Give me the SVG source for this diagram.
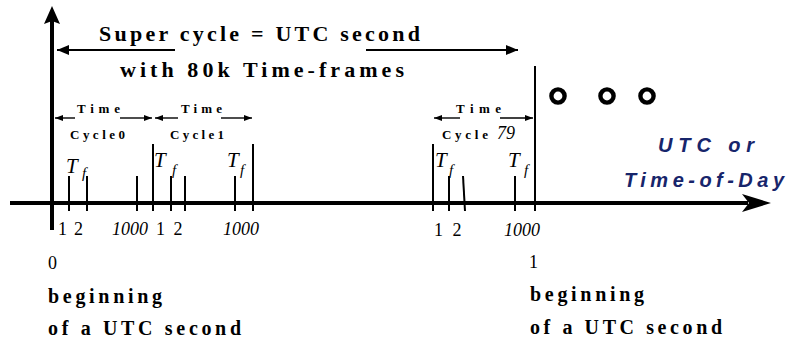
<svg xmlns="http://www.w3.org/2000/svg" width="786" height="342" viewBox="0 0 786 342">
<style>
  .axis { stroke: #000; stroke-width: 4; fill: none; }
  .tick { stroke: #000; stroke-width: 2; fill: none; }
  .arr  { stroke: #000; stroke-width: 2; fill: none; }
  .sarr { stroke: #000; stroke-width: 1.4; fill: none; }
  .head { fill: #000; stroke: none; }
  .title { font-family: "Liberation Serif", "Times New Roman", serif; font-weight: bold; font-size: 22px; fill: #000; }
  .small { font-family: "Liberation Serif", "Times New Roman", serif; font-weight: bold; font-size: 13px; fill: #000; }
  .num  { font-family: "Liberation Serif", "Times New Roman", serif; font-size: 18px; fill: #000; }
  .inum { font-family: "Liberation Serif", "Times New Roman", serif; font-style: italic; font-size: 18px; fill: #000; }
  .T    { font-family: "Liberation Serif", "Times New Roman", serif; font-style: italic; font-size: 21px; fill: #000; }
  .f    { font-family: "Liberation Serif", "Times New Roman", serif; font-style: italic; font-size: 15px; fill: #000; }
  .lbl  { font-family: "Liberation Serif", "Times New Roman", serif; font-weight: bold; font-size: 20px; fill: #000; }
  .utc  { font-family: "Liberation Sans", Arial, sans-serif; font-weight: bold; font-style: italic; font-size: 20px; fill: #17256b; }
  .ring { fill: none; stroke: #000; stroke-width: 4.4; }
</style>
<defs>
  <marker id="sm" viewBox="0 0 8 6" refX="8" refY="3" markerWidth="8" markerHeight="6" markerUnits="userSpaceOnUse" orient="auto">
    <path d="M0,0 L8,3 L0,6 Z" fill="#000"/>
  </marker>
  <marker id="md" viewBox="0 0 12 10" refX="12" refY="5" markerWidth="12" markerHeight="10" markerUnits="userSpaceOnUse" orient="auto">
    <path d="M0,0 L12,5 L0,10 Z" fill="#000"/>
  </marker>
</defs>

<g id="axes">
  <line class="axis" x1="52" y1="20" x2="52" y2="230"/>
  <path class="head" d="M52,6 L60,24 L52,21 L44,24 Z"/>
  <line class="axis" x1="10" y1="203" x2="748" y2="203"/>
  <path class="head" d="M771,203 L742,194 L749,203 L742,212 Z"/>
</g>

<g id="ticks">
  <line class="tick" x1="69" y1="176" x2="69" y2="211"/>
  <line class="tick" x1="87" y1="176" x2="87" y2="211"/>
  <line class="tick" x1="137" y1="176" x2="137" y2="211"/>
  <line class="tick" x1="153" y1="144" x2="153" y2="211"/>
  <line class="tick" x1="171" y1="176" x2="171" y2="211"/>
  <line class="tick" x1="185" y1="176" x2="185" y2="211"/>
  <line class="tick" x1="235" y1="176" x2="235" y2="211"/>
  <line class="tick" x1="253" y1="144" x2="253" y2="211"/>
  <line class="tick" x1="433" y1="144" x2="433" y2="211"/>
  <line class="tick" x1="449" y1="176" x2="449" y2="211"/>
  <line class="tick" x1="463" y1="176" x2="465" y2="211"/>
  <line class="tick" x1="515" y1="176" x2="515" y2="211"/>
  <line class="tick" x1="535" y1="66" x2="535" y2="211"/>
</g>

<g id="connectors">
  <line class="arr" x1="175" y1="50" x2="57" y2="50" marker-end="url(#md)"/>
  <line class="arr" x1="366" y1="50" x2="518" y2="50" marker-end="url(#md)"/>
  <line class="sarr" x1="75" y1="118" x2="55" y2="118" marker-end="url(#sm)"/>
  <line class="sarr" x1="120" y1="118" x2="152" y2="118" marker-end="url(#sm)"/>
  <line class="sarr" x1="178" y1="118" x2="155" y2="118" marker-end="url(#sm)"/>
  <line class="sarr" x1="221" y1="118" x2="252" y2="118" marker-end="url(#sm)"/>
  <line class="sarr" x1="460" y1="118" x2="434" y2="118" marker-end="url(#sm)"/>
  <line class="sarr" x1="500" y1="118" x2="533" y2="118" marker-end="url(#sm)"/>
</g>

<g id="title">
  <text class="title" x="99" y="41" textLength="321" lengthAdjust="spacing">Super cycle = UTC second</text>
  <text class="title" x="120" y="77" textLength="284" lengthAdjust="spacing">with 80k Time-frames</text>
</g>

<g id="cycle0">
  <text class="small" x="77" y="113" textLength="43" lengthAdjust="spacing">Time</text>
  <text class="small" x="70" y="139" textLength="55" lengthAdjust="spacing">Cycle0</text>
  <text class="T" x="66" y="173">T</text>
  <text class="f" x="82" y="178">f</text>
  <text class="num" x="58" y="235" letter-spacing="1.3">1 2</text>
  <text class="inum" x="112" y="235">1000</text>
</g>

<g id="cycle1">
  <text class="small" x="181" y="113" textLength="41" lengthAdjust="spacing">Time</text>
  <text class="small" x="170" y="139" textLength="54" lengthAdjust="spacing">Cycle1</text>
  <text class="T" x="154" y="167">T</text>
  <text class="f" x="172" y="175">f</text>
  <text class="T" x="227" y="167">T</text>
  <text class="f" x="240" y="175">f</text>
  <text class="num" x="156" y="235" letter-spacing="2">1 2</text>
  <text class="inum" x="223" y="235">1000</text>
</g>

<g id="cycle79">
  <text class="small" x="456" y="113" textLength="45" lengthAdjust="spacing">Time</text>
  <text class="small" x="442" y="139" textLength="46" lengthAdjust="spacing">Cycle</text>
  <text class="inum" x="497" y="139" font-size="16">79</text>
  <text class="T" x="435" y="167">T</text>
  <text class="f" x="449" y="175">f</text>
  <text class="T" x="508" y="167">T</text>
  <text class="f" x="524" y="175">f</text>
  <text class="num" x="434" y="236" letter-spacing="2.5">1 2</text>
  <text class="inum" x="504" y="236">1000</text>
</g>

<g id="ellipsis">
  <circle class="ring" cx="558" cy="96" r="6.6"/>
  <circle class="ring" cx="607" cy="96" r="6.6"/>
  <circle class="ring" cx="647" cy="96" r="6.6"/>
</g>

<g id="axis-label">
  <text class="utc" x="658" y="152" textLength="96" lengthAdjust="spacing">UTC or</text>
  <text class="utc" x="624" y="187" textLength="160" lengthAdjust="spacing">Time-of-Day</text>
</g>

<g id="start-label">
  <text class="num" x="48" y="269">0</text>
  <text class="lbl" x="48" y="303" textLength="114" lengthAdjust="spacing">beginning</text>
  <text class="lbl" x="48" y="335" textLength="193" lengthAdjust="spacing">of a UTC second</text>
</g>

<g id="end-label">
  <text class="num" x="529" y="268">1</text>
  <text class="lbl" x="530" y="301" textLength="114" lengthAdjust="spacing">beginning</text>
  <text class="lbl" x="530" y="334" textLength="192" lengthAdjust="spacing">of a UTC second</text>
</g>
</svg>
